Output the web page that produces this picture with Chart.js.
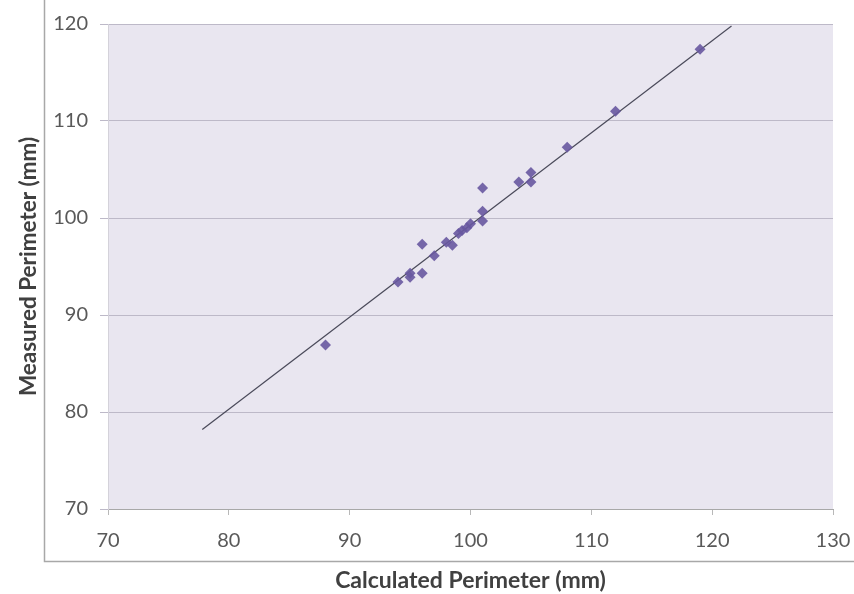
<!DOCTYPE html>
<html>
<head>
<meta charset="utf-8">
<script src="https://cdn.jsdelivr.net/npm/chart.js@4/dist/chart.umd.min.js"></script>
<style>
  html, body { margin: 0; padding: 0; background: #ffffff; }
  #wrap { width: 854px; height: 594px; position: relative; }
</style>
</head>
<body>
<div id="wrap"><canvas id="c" width="854" height="594"></canvas></div>
<script>
// Calculated perimeter (x) and measured perimeter (y), mm
const calculated = [88, 94, 95, 95, 96, 96, 97, 98, 98.5, 99, 99.3, 99.7, 100, 101, 101, 101, 104, 105, 105, 108, 112, 119];
const measured   = [86.9, 93.4, 93.9, 94.3, 94.3, 97.3, 96.1, 97.5, 97.2, 98.4, 98.7, 99.0, 99.4, 99.7, 100.7, 103.1, 103.7, 104.7, 103.7, 107.3, 111.0, 117.4];
// Trend line end points
const lineX = [77.8, 121.6];
const lineY = [78.2, 119.8];
const xTicks = [70, 80, 90, 100, 110, 120, 130];
const yTicks = [70, 80, 90, 100, 110, 120];

const scatterData = calculated.map((x, i) => ({ x: x, y: measured[i] }));
const lineData = lineX.map((x, i) => ({ x: x, y: lineY[i] }));

const bgPlugin = {
  id: 'bg',
  beforeDraw(chart) {
    const { ctx, chartArea: a } = chart;
    ctx.save();
    ctx.fillStyle = '#e9e6f0';
    ctx.fillRect(a.left, a.top, a.right - a.left, a.bottom - a.top);
    // outer frame (left & bottom)
    ctx.strokeStyle = '#a8a8a8';
    ctx.lineWidth = 1.5;
    ctx.beginPath();
    ctx.moveTo(44.5, 0);
    ctx.lineTo(44.5, 561.5);
    ctx.lineTo(854, 561.5);
    ctx.stroke();
    ctx.restore();
  }
};

new Chart(document.getElementById('c'), {
  type: 'scatter',
  data: {
    datasets: [
      {
        type: 'line',
        data: lineData,
        borderColor: '#4a4a5a',
        borderWidth: 1.2,
        pointRadius: 0,
        fill: false,
        order: 2
      },
      {
        data: scatterData,
        pointStyle: 'rectRot',
        pointRadius: 5.5,
        backgroundColor: 'rgba(104, 88, 160, 0.9)',
        borderColor: 'rgba(104, 88, 160, 0.9)',
        borderWidth: 0,
        order: 1
      }
    ]
  },
  options: {
    responsive: false,
    animation: false,
    events: [],
    layout: { padding: { top: 23, right: 21, left: 0, bottom: 0 } },
    plugins: {
      legend: { display: false },
      tooltip: { enabled: false }
    },
    scales: {
      x: {
        type: 'linear',
        min: 70, max: 130,
        afterBuildTicks: (s) => { s.ticks = xTicks.map(v => ({ value: v })); },
        afterFit: (s) => { s.height = 85; s.paddingRight = 21; s.paddingLeft = 0; },
        grid: { drawOnChartArea: false, drawTicks: true, tickLength: 6, color: '#b8b8b8' },
        border: { color: '#a8a8a8', width: 1 },
        ticks: { color: '#595959', font: { family: 'Lato', size: 20 }, padding: 14, maxRotation: 0 },
        title: {
          display: true,
          text: 'Calculated Perimeter (mm)',
          color: '#404040',
          font: { family: 'Lato', size: 23, weight: 'bold' },
          padding: { top: 0, bottom: 0 }
        }
      },
      y: {
        type: 'linear',
        min: 70, max: 120,
        afterBuildTicks: (s) => { s.ticks = yTicks.map(v => ({ value: v })); },
        afterFit: (s) => { s.width = 108; },
        grid: { color: '#bdb9c8', tickLength: 8, drawTicks: true },
        border: { color: '#d4d2da', width: 1 },
        ticks: { color: '#595959', font: { family: 'Lato', size: 20 }, padding: 12 },
        title: {
          display: true,
          text: 'Measured Perimeter (mm)',
          color: '#404040',
          font: { family: 'Lato', size: 22.5, weight: 'bold' },
          padding: { top: 15, bottom: 0 }
        }
      }
    }
  },
  plugins: [bgPlugin]
});
</script>
</body>
</html>
